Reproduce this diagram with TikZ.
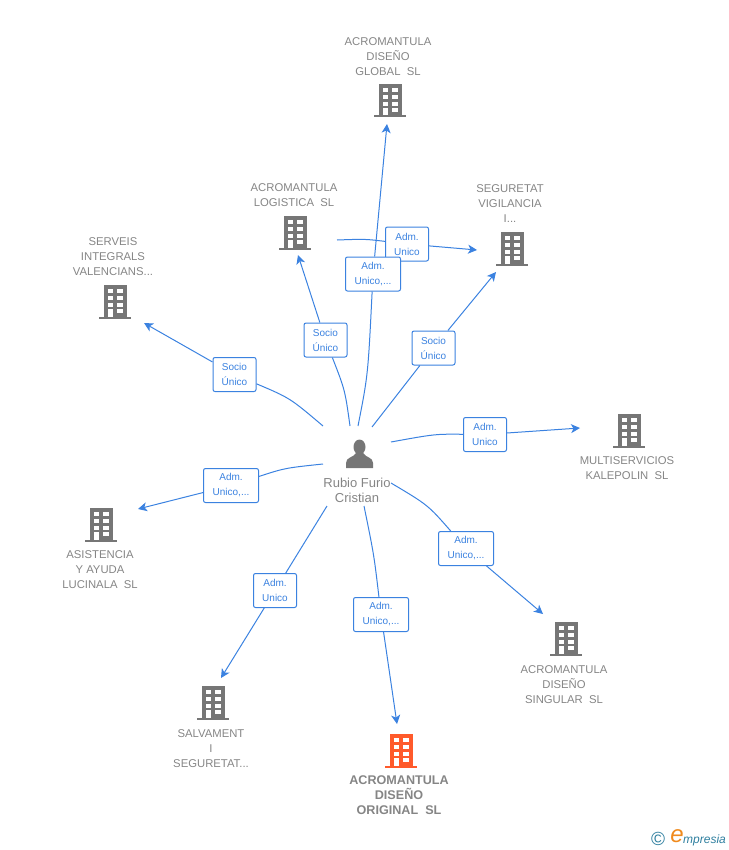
\documentclass[tikz,border=0pt]{standalone}
\usepackage{fontspec}
\setmainfont{Liberation Sans}
\usetikzlibrary{arrows.meta}
\definecolor{linkblue}{HTML}{3B82E0}
\definecolor{bldggray}{HTML}{767676}
\definecolor{bldgorange}{HTML}{FF5A2B}
\definecolor{namegray}{HTML}{858585}
\definecolor{logoblue}{HTML}{2F7F9F}
\definecolor{logoorange}{HTML}{F08A1D}
\tikzset{
  pics/bldg/.style={code={
    \fill[#1] (-11.5,-17) rectangle (11.5,15);
    \fill[#1] (-16,14.5) rectangle (16,16.5);
    \foreach \yy in {-12.7,-6,0.7}{
      \fill[white] (-7.5,\yy) rectangle (-2,\yy+4);
      \fill[white] (2,\yy) rectangle (7.5,\yy+4);
    }
    \fill[white] (-7.5,7.3) rectangle (-2,14.5);
    \fill[white] (2,7.3) rectangle (7.5,11.3);
  }},
  namelabel/.style={align=center,text=namegray,inner sep=0pt,font=\fontsize{11.3}{15}\selectfont},
  linkbox/.style={draw=linkblue,fill=white,rounded corners=2pt,line width=1pt,align=center,
    text=linkblue,inner sep=0pt,minimum height=34pt,font=\fontsize{10}{15}\selectfont},
  link/.style={draw=linkblue,line width=1pt},
  linkarrow/.style={link,-{Stealth[length=9pt,width=9pt,inset=2.5pt]}}
}
\begin{document}
\begin{tikzpicture}[x=1pt,y=-1pt]
  \useasboundingbox (0,0) rectangle (728,850);
  % buildings
  \pic at (390,101) {bldg=bldggray};
  \pic at (295,233) {bldg=bldggray};
  \pic at (512,249) {bldg=bldggray};
  \pic at (115,302) {bldg=bldggray};
  \pic at (629,431) {bldg=bldggray};
  \pic at (101,525) {bldg=bldggray};
  \pic at (566,639) {bldg=bldggray};
  \pic at (213,703) {bldg=bldggray};
  \pic at (401,751) {bldg=bldgorange};
  % names
  \node[namelabel] (nameGlobal) at (388,57) {ACROMANTULA\\DISEÑO\\GLOBAL\ \ SL};
  \node[namelabel] (nameLogistica) at (294,195.5) {ACROMANTULA\\LOGISTICA\ \ SL};
  \node[namelabel] (nameSeguretat) at (510,204) {SEGURETAT\\VIGILANCIA\\I...};
  \node[namelabel] (nameServeis) at (113,257) {SERVEIS\\INTEGRALS\\VALENCIANS...};
  \node[namelabel] (nameMulti) at (627,468) {MULTISERVICIOS\\KALEPOLIN\ \ SL};
  \node[namelabel] (nameAsistencia) at (100,570) {ASISTENCIA\\Y AYUDA\\LUCINALA\ \ SL};
  \node[namelabel] (nameSingular) at (564,685) {ACROMANTULA\\DISEÑO\\SINGULAR\ \ SL};
  \node[namelabel] (nameSalvament) at (211,749) {SALVAMENT\\I\\SEGURETAT...};
  \node[namelabel,font=\fontsize{12.6}{15}\selectfont\bfseries] (nameOriginal) at (399,795) {ACROMANTULA\\DISEÑO\\ORIGINAL\ \ SL};
  % person
  \fill[bldggray] (359.5,447) ellipse (6 and 7.5);
  \fill[bldggray] (346,468) -- (346,463) .. controls (346,457) and (353,458) .. (356,453)
    -- (363,453) .. controls (366,458) and (373,457) .. (373,463) -- (373,468) -- cycle;
  \node[namelabel,font=\fontsize{13}{15}\selectfont] (person) at (357,490) {Rubio Furio\\Cristian};
  % boxes
  \node[linkbox,minimum width=43pt] (boxSegA) at (407,244) {Adm.\\Unico};
  \node[linkbox,minimum width=55pt] (boxGlobal) at (373,274) {Adm.\\Unico,...};
  \node[linkbox,minimum width=43pt] (boxLog) at (325.5,340) {Socio\\Único};
  \node[linkbox,minimum width=43pt] (boxSegS) at (433.5,348) {Socio\\Único};
  \node[linkbox,minimum width=43pt] (boxServeis) at (234.5,374.5) {Socio\\Único};
  \node[linkbox,minimum width=43pt] (boxMulti) at (485,434.5) {Adm.\\Unico};
  \node[linkbox,minimum width=55pt] (boxAsis) at (231,485.5) {Adm.\\Unico,...};
  \node[linkbox,minimum width=55pt] (boxSing) at (466,548.5) {Adm.\\Unico,...};
  \node[linkbox,minimum width=43pt] (boxSalv) at (275,590.5) {Adm.\\Unico};
  \node[linkbox,minimum width=55pt] (boxOrig) at (381,614.5) {Adm.\\Unico,...};
  % free ends
  \coordinate (fromGlobal) at (358,426);
  \coordinate (toGlobal) at (387,124);
  \coordinate (fromLog) at (350,426);
  \coordinate (toLog) at (298,255);
  \coordinate (fromSegS) at (372,427);
  \coordinate (toSegS) at (496,272);
  \coordinate (fromSegA) at (337,240);
  \coordinate (toSegA) at (477,250);
  \coordinate (fromServeis) at (323,426);
  \coordinate (toServeis) at (144,323);
  \coordinate (fromMulti) at (391,442);
  \coordinate (toMulti) at (580,428);
  \coordinate (fromAsis) at (323,464);
  \coordinate (toAsis) at (138,509);
  \coordinate (fromSing) at (391,483);
  \coordinate (toSing) at (543,614);
  \coordinate (fromSalv) at (327,506);
  \coordinate (toSalv) at (221,678);
  \coordinate (fromOrig) at (364,506);
  \coordinate (toOrig) at (397,724);
  % connectors
  \draw[link] (fromGlobal) .. controls (368,375) .. (boxGlobal);
  \draw[linkarrow] (boxGlobal) -- (toGlobal);
  \draw[link] (fromLog) .. controls (345,390) .. (boxLog);
  \draw[linkarrow] (boxLog) -- (toLog);
  \draw[link] (fromSegS) -- (boxSegS);
  \draw[linkarrow] (boxSegS) -- (toSegS);
  \draw[link] (fromSegA) .. controls (365,239) .. (boxSegA);
  \draw[linkarrow] (boxSegA) -- (toSegA);
  \draw[link] (fromServeis) .. controls (290,398) .. (boxServeis);
  \draw[linkarrow] (boxServeis) -- (toServeis);
  \draw[link] (fromMulti) .. controls (435,434) .. (boxMulti);
  \draw[linkarrow] (boxMulti) -- (toMulti);
  \draw[link] (fromAsis) .. controls (285,468) .. (boxAsis);
  \draw[linkarrow] (boxAsis) -- (toAsis);
  \draw[link] (fromSing) .. controls (428,505) .. (boxSing);
  \draw[linkarrow] (boxSing) -- (toSing);
  \draw[link] (fromSalv) -- (boxSalv);
  \draw[linkarrow] (boxSalv) -- (toSalv);
  \draw[link] (fromOrig) .. controls (374,555) .. (boxOrig);
  \draw[linkarrow] (boxOrig) -- (toOrig);
  % logo
  \node[inner sep=0pt,text=logoblue,font=\fontsize{19}{19}\selectfont] (logoC) at (658,839) {©};
  \node[inner sep=0pt,text=logoorange,font=\fontsize{24}{24}\selectfont\itshape] (logoE) at (677,836) {e};
  \node[inner sep=0pt,text=logoblue,anchor=west,font=\fontsize{12}{12}\selectfont\itshape] (logoName) at (683,840) {mpresia};
\end{tikzpicture}
\end{document}
